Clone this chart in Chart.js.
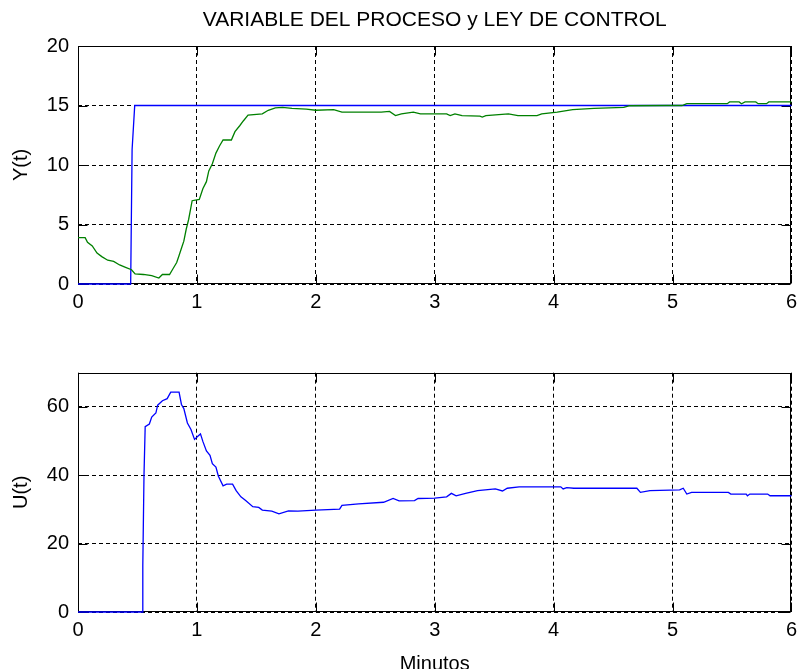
<!DOCTYPE html>
<html>
<head>
<meta charset="utf-8">
<script src="https://cdn.jsdelivr.net/npm/chart.js@4.4.1/dist/chart.umd.min.js"></script>
<style>
  html, body { margin: 0; padding: 0; background: #fff; overflow: hidden; width: 803px; height: 669px; }
  canvas { position: absolute; left: 0; }
  #topChart { top: 0; }
  #botChart { top: 330px; }
</style>
</head>
<body>
<canvas id="topChart" width="803" height="330"></canvas>
<canvas id="botChart" width="803" height="339"></canvas>
<script>
// Tick labels
const xTicks = [0, 1, 2, 3, 4, 5, 6];
const yTicksTop = [0, 5, 10, 15, 20];
const uTicks = [0, 20, 40, 60];

// Set point (minutes / value)
const spTime  = [0, 0.443, 0.447, 0.455, 0.477, 6];
const spValue = [0, 0, 3.9, 11.3, 15, 15];

// Process variable Y(t)
const pvTime = [0, 0.06, 0.08, 0.12, 0.16, 0.20, 0.25, 0.30, 0.35, 0.40, 0.45, 0.48, 0.55, 0.62, 0.68, 0.71,
  0.77, 0.80, 0.83, 0.85, 0.87, 0.89, 0.91, 0.93, 0.96, 1.02, 1.05, 1.08, 1.10, 1.13, 1.16, 1.19, 1.22,
  1.29, 1.32, 1.36, 1.39, 1.43, 1.55, 1.60, 1.66, 1.72, 1.80, 1.92, 2.00, 2.15, 2.22, 2.55, 2.62, 2.67,
  2.72, 2.82, 2.88, 3.10, 3.13, 3.17, 3.23, 3.38, 3.40, 3.43, 3.62, 3.70, 3.86, 3.90, 4.03, 4.16, 4.34,
  4.59, 4.64, 4.95, 5.08, 5.12, 5.46, 5.48, 5.56, 5.58, 5.61, 5.70, 5.72, 5.79, 5.81, 6.00];
const pvValue = [3.9, 3.9, 3.5, 3.2, 2.6, 2.3, 2.0, 1.9, 1.6, 1.4, 1.2, 0.85, 0.8, 0.7, 0.5, 0.8,
  0.8, 1.3, 1.8, 2.4, 3.0, 3.6, 4.6, 5.4, 7.0, 7.1, 8.0, 8.6, 9.5, 10.1, 11.0, 11.6, 12.1,
  12.1, 12.8, 13.3, 13.7, 14.2, 14.3, 14.6, 14.8, 14.85, 14.75, 14.7, 14.6, 14.65, 14.45, 14.45, 14.5, 14.15,
  14.3, 14.45, 14.3, 14.3, 14.15, 14.3, 14.15, 14.1, 14.03, 14.15, 14.3, 14.15, 14.15, 14.3, 14.45, 14.65, 14.75,
  14.85, 14.98, 15.0, 15.0, 15.15, 15.15, 15.3, 15.3, 15.15, 15.3, 15.3, 15.15, 15.15, 15.3, 15.3];

// Control law U(t)
const uTime = [0, 0.54, 0.545, 0.555, 0.565, 0.60, 0.62, 0.655, 0.67, 0.71, 0.75, 0.78, 0.85, 0.87, 0.89,
  0.92, 0.95, 0.98, 1.01, 1.03, 1.05, 1.08, 1.11, 1.13, 1.16, 1.18, 1.22, 1.25, 1.30, 1.33, 1.37, 1.41,
  1.47, 1.52, 1.55, 1.63, 1.69, 1.77, 1.85, 2.00, 2.20, 2.22, 2.36, 2.57, 2.65, 2.70, 2.83, 2.86, 3.00,
  3.10, 3.14, 3.18, 3.26, 3.36, 3.51, 3.57, 3.61, 3.71, 4.06, 4.08, 4.11, 4.17, 4.70, 4.73, 4.81, 5.06,
  5.09, 5.12, 5.16, 5.47, 5.49, 5.62, 5.63, 5.65, 5.80, 5.82, 6.00];
const uValue = [0, 0, 13.7, 40, 54.2, 55, 57, 58.2, 60.5, 61.8, 62.4, 64.3, 64.3, 60.7, 59.5,
  55.3, 53.4, 50.5, 51.5, 52.1, 49.9, 47.1, 45.8, 43.4, 42.4, 39.8, 36.9, 37.4, 37.4, 35.5, 33.7, 32.6,
  30.8, 30.6, 29.8, 29.5, 28.7, 29.6, 29.5, 29.8, 30.1, 31.2, 31.6, 32.1, 33.2, 32.5, 32.6, 33.2, 33.3,
  33.7, 34.7, 34.0, 34.7, 35.5, 36.0, 35.4, 36.2, 36.6, 36.6, 36.0, 36.4, 36.2, 36.2, 35.0, 35.5, 35.7,
  36.2, 34.5, 35.0, 35.0, 34.5, 34.5, 34.0, 34.5, 34.5, 34.0, 34.0];

const FONT = "'Liberation Sans', Arial, Helvetica, sans-serif";
Chart.defaults.font.family = FONT;
Chart.defaults.color = '#000';

const pts = (t, v) => t.map((x, i) => ({ x, y: v[i] }));
const fixedTicks = list => scale => { scale.ticks = list.map(v => ({ value: v })); };

// Solid axes box with short inward tick marks on all four sides
const frame = {
  id: 'frame',
  beforeDatasetsDraw(chart) {
    const { ctx, chartArea: a, scales } = chart;
    const L = Math.round(a.left) + 0.5, R = Math.round(a.right) - 0.5;
    const T = Math.round(a.top) + 0.5, B = Math.round(a.bottom) - 0.5;
    const len = 9;
    ctx.save();
    ctx.strokeStyle = '#000';
    ctx.lineWidth = 1;
    ctx.setLineDash([]);
    ctx.strokeRect(L, T, R - L, B - T);
    ctx.beginPath();
    scales.x.ticks.forEach(t => {
      const px = Math.round(scales.x.getPixelForValue(t.value)) + 0.5;
      ctx.moveTo(px, B); ctx.lineTo(px, B - len);
      ctx.moveTo(px, T); ctx.lineTo(px, T + len);
    });
    scales.y.ticks.forEach(t => {
      const py = Math.round(scales.y.getPixelForValue(t.value)) + 0.5;
      ctx.moveTo(L, py); ctx.lineTo(L + len, py);
      ctx.moveTo(R, py); ctx.lineTo(R - len, py);
    });
    ctx.stroke();
    ctx.restore();
  }
};

const gridOpts = { color: '#000', lineWidth: 1, drawTicks: false };
const borderOpts = { display: false, dash: [4, 3] };

function xAxis(extra) {
  return Object.assign({
    type: 'linear', min: 0, max: 6,
    afterBuildTicks: fixedTicks(xTicks),
    grid: gridOpts, border: borderOpts,
    ticks: { padding: 6, font: { size: 20 }, maxRotation: 0, autoSkip: false }
  }, extra);
}

function yAxis(min, max, list, label) {
  return {
    min, max,
    afterBuildTicks: fixedTicks(list),
    afterFit: s => { s.width = 78; },
    grid: gridOpts, border: borderOpts,
    ticks: { padding: 9, font: { size: 20 } },
    title: { display: true, text: label, font: { size: 20 }, padding: { top: 9, bottom: 0 } }
  };
}

const baseOpts = {
  responsive: false, animation: false, devicePixelRatio: 1,
  plugins: { legend: { display: false }, tooltip: { enabled: false } },
  elements: { point: { radius: 0 }, line: { tension: 0 } }
};

new Chart(document.getElementById('topChart'), {
  type: 'line',
  data: { datasets: [
    { data: pts(pvTime, pvValue), borderColor: '#008000', borderWidth: 1.3, clip: false },
    { data: pts(spTime, spValue), borderColor: '#0000ff', borderWidth: 1.3, clip: false }
  ] },
  options: Object.assign({}, baseOpts, {
    layout: { padding: { left: 0, right: 7.5, top: 0, bottom: 0 } },
    scales: {
      x: xAxis({ afterFit: s => { s.height = 46; } }),
      xTop: {
        type: 'linear', position: 'top', min: 0, max: 6,
        afterFit: s => { s.height = 46; },
        grid: { display: false }, border: { display: false }, ticks: { display: false },
        title: { display: true, text: 'VARIABLE DEL PROCESO y LEY DE CONTROL', font: { size: 21 }, padding: { top: 8, bottom: 0 } }
      },
      y: yAxis(0, 20, yTicksTop, 'Y(t)')
    }
  }),
  plugins: [frame]
});

new Chart(document.getElementById('botChart'), {
  type: 'line',
  data: { datasets: [
    { data: pts(uTime, uValue), borderColor: '#0000ff', borderWidth: 1.3, clip: false }
  ] },
  options: Object.assign({}, baseOpts, {
    layout: { padding: { left: 0, right: 7.5, top: 42.7, bottom: 0 } },
    scales: {
      x: xAxis({
        afterFit: s => { s.height = 57; },
        title: { display: true, text: 'Minutos', font: { size: 20, lineHeight: 0.5 }, padding: { top: 0, bottom: 0 } }
      }),
      y: yAxis(0, 70, uTicks, 'U(t)')
    }
  }),
  plugins: [frame]
});
</script>
</body>
</html>
